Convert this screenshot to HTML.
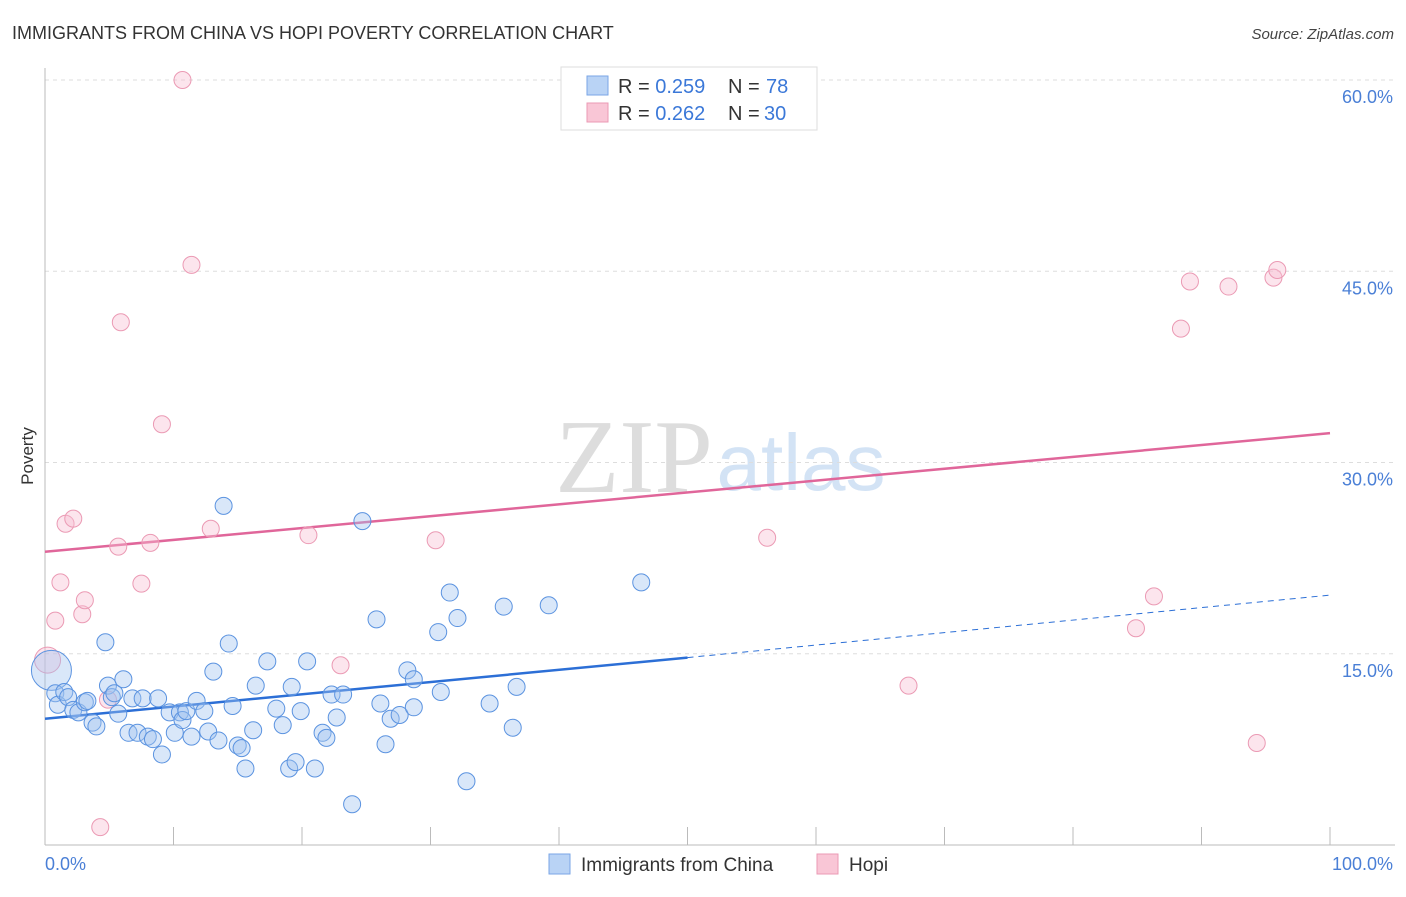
<!DOCTYPE html>
<html><head><meta charset="utf-8"><style>
body{margin:0;background:#fff;font-family:"Liberation Sans",sans-serif;}
</style></head><body>
<svg id="chart" width="1406" height="892" xmlns="http://www.w3.org/2000/svg" font-family="Liberation Sans, sans-serif">
<text x="12" y="39" font-size="18" fill="#333">IMMIGRANTS FROM CHINA VS HOPI POVERTY CORRELATION CHART</text>
<text x="1394" y="39" font-size="15" fill="#444" text-anchor="end" font-style="italic">Source: ZipAtlas.com</text>
<g><text x="634" y="492" font-size="105" fill="#ddd" font-family="Liberation Serif, serif" text-anchor="middle">ZIP</text><text x="801" y="490" font-size="80" fill="#d3e3f5" text-anchor="middle">atlas</text></g>
<g id="grid"></g>
<g id="axes"></g>
<g id="lines"></g>
<g id="points"></g>
<text transform="translate(33,456) rotate(-90)" font-size="17" fill="#333" text-anchor="middle">Poverty</text>
<g>
<rect x="561" y="67" width="256" height="63" fill="#fff" stroke="#ddd"/>
<rect x="587" y="76" width="21" height="19" fill="#b9d3f5" stroke="#7aa6e6"/>
<rect x="587" y="103" width="21" height="19" fill="#f9c6d6" stroke="#eb9ab4"/>
<text x="618" y="93" font-size="20" fill="#333">R = <tspan fill="#3b78d8">0.259</tspan><tspan x="728">N = </tspan><tspan x="766" fill="#3b78d8">78</tspan></text>
<text x="618" y="120" font-size="20" fill="#333">R = <tspan fill="#3b78d8">0.262</tspan><tspan x="728">N = </tspan><tspan x="764" fill="#3b78d8">30</tspan></text>
</g>
<g>
<rect x="549" y="854" width="21" height="20" fill="#b9d3f5" stroke="#7aa6e6"/>
<text x="581" y="871" font-size="19" fill="#333">Immigrants from China</text>
<rect x="817" y="854" width="21" height="20" fill="#f9c6d6" stroke="#eb9ab4"/>
<text x="849" y="871" font-size="19" fill="#333">Hopi</text>
</g>
</svg>
<script>
const yTicks=[15,30,45,60];
const yTickLabels=["15.0%","30.0%","45.0%","60.0%"];
const xTickVals=[0,10,20,30,40,50,60,70,80,90,100];
const chinaX=[0.5,0.8,1.0,1.5,1.8,2.2,2.6,3.1,3.3,3.7,4.0,4.7,4.9,5.2,5.4,5.7,6.1,6.5,6.8,7.2,7.6,8.0,8.4,8.8,9.1,9.7,10.1,10.5,10.7,11.0,11.4,11.8,12.4,12.7,13.1,13.5,13.9,14.3,14.6,15.0,15.3,15.6,16.2,16.4,17.3,18.0,18.5,19.0,19.2,19.5,19.9,20.4,21.0,21.6,21.9,22.3,22.7,23.2,23.9,24.7,25.8,26.1,26.5,26.9,27.6,28.2,28.7,28.7,30.6,30.8,31.5,32.1,32.8,34.6,35.7,36.4,36.7,39.2,46.4];
const chinaY=[13.7,11.9,11.0,12.0,11.6,10.6,10.4,11.2,11.3,9.6,9.3,15.9,12.5,11.6,11.9,10.3,13.0,8.8,11.5,8.8,11.5,8.5,8.3,11.5,7.1,10.4,8.8,10.4,9.8,10.5,8.5,11.3,10.5,8.9,13.6,8.2,26.6,15.8,10.9,7.8,7.6,6.0,9.0,12.5,14.4,10.7,9.4,6.0,12.4,6.5,10.5,14.4,6.0,8.8,8.4,11.8,10.0,11.8,3.2,25.4,17.7,11.1,7.9,9.9,10.2,13.7,13.0,10.8,16.7,12.0,19.8,17.8,5.0,11.1,18.7,9.2,12.4,18.8,20.6];
const hopiX=[0.2,0.8,1.2,1.6,2.2,2.9,3.1,4.3,4.9,5.7,5.9,7.5,8.2,9.1,10.7,11.4,12.9,20.5,23.0,30.4,56.2,67.2,84.9,86.3,88.4,89.1,92.1,94.3,95.6,95.9];
const hopiY=[14.5,17.6,20.6,25.2,25.6,18.1,19.2,1.4,11.4,23.4,41.0,20.5,23.7,33.0,60.0,45.5,24.8,24.3,14.1,23.9,24.1,12.5,17.0,19.5,40.5,44.2,43.8,8.0,44.5,45.1];
const chinaTrend=[9.9,14.7,19.6];
const hopiTrend=[23.0,32.3];
const NS="http://www.w3.org/2000/svg";
const X=v=>45+v*12.85, Y=v=>845-v*12.75;
function mk(tag,attrs,parent){const e=document.createElementNS(NS,tag);for(const k in attrs)e.setAttribute(k,attrs[k]);document.getElementById(parent).appendChild(e);return e;}
yTicks.forEach((t,i)=>{
 const g=mk('line',{x1:45,x2:1395,y1:Y(t),y2:Y(t),stroke:'#ddd','stroke-dasharray':'4,4'},'grid');
 
 
 const l=mk('text',{x:1393,y:Y(t)+23,'font-size':18,fill:'#4a7fd6','text-anchor':'end'},'grid');
 l.textContent=yTickLabels[i];
 
 
});
const ax=mk('line',{x1:45,x2:45,y1:68,y2:845,stroke:'#bbb'},'axes');


const bx=mk('line',{x1:45,x2:1395,y1:845,y2:845,stroke:'#bbb'},'axes');


xTickVals.forEach(v=>{const t=mk('line',{x1:X(v),x2:X(v),y1:827,y2:845,stroke:'#bbb'},'axes');
 
 });
const x0=mk('text',{x:45,y:870,'font-size':18,fill:'#4a7fd6'},'axes');x0.textContent='0.0%';


const x1=mk('text',{x:1393,y:870,'font-size':18,fill:'#4a7fd6','text-anchor':'end'},'axes');x1.textContent='100.0%';


hopiX.forEach((v,i)=>{const c=mk('circle',{cx:X(v),cy:Y(hopiY[i]),r:i==0?13:8.5,fill:'rgba(248,190,210,0.4)',stroke:'#eb9ab4','stroke-width':1},'points');
 
 });
chinaX.forEach((v,i)=>{const c=mk('circle',{cx:X(v),cy:Y(chinaY[i]),r:i==0?20:8.5,fill:'rgba(160,196,240,0.4)',stroke:'#5b93e0','stroke-width':1},'points');
 
 });
const cl=mk('line',{x1:X(0),y1:Y(chinaTrend[0]),x2:X(50),y2:Y(chinaTrend[1]),stroke:'#2c6fd6','stroke-width':2.5},'lines');


const cd=mk('line',{x1:X(50),y1:Y(chinaTrend[1]),x2:X(100),y2:Y(chinaTrend[2]),stroke:'#2c6fd6','stroke-width':1,'stroke-dasharray':'6,5'},'lines');


const hl=mk('line',{x1:X(0),y1:Y(hopiTrend[0]),x2:X(100),y2:Y(hopiTrend[1]),stroke:'#e0669a','stroke-width':2.5},'lines');


</script>
</body></html>
